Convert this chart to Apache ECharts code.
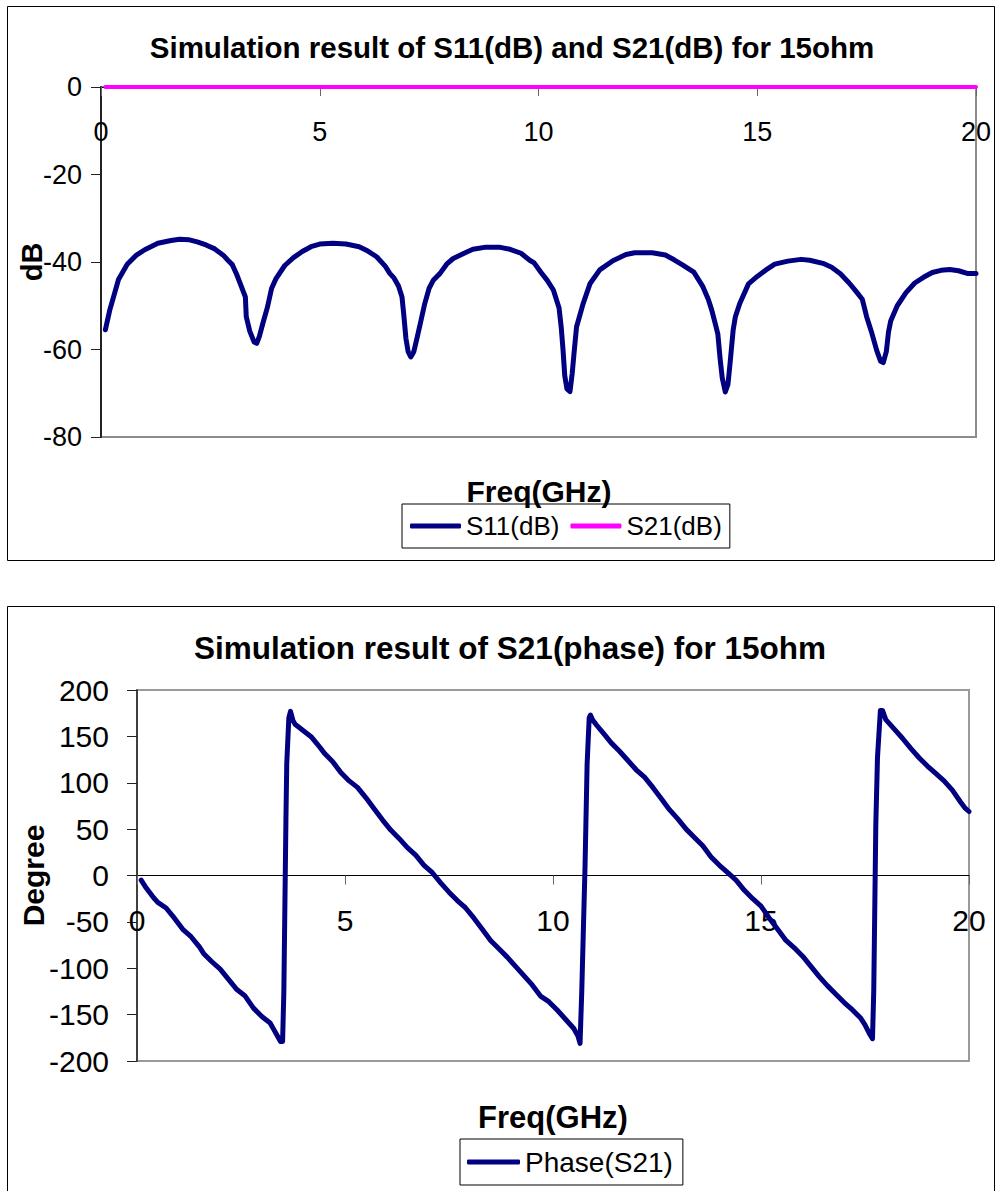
<!DOCTYPE html>
<html>
<head>
<meta charset="utf-8">
<script src="https://cdn.jsdelivr.net/npm/echarts@6/dist/echarts.min.js"></script>
<style>
html,body{margin:0;padding:0;background:#fff;}
#chart{width:1004px;height:1191px;}
</style>
</head>
<body>
<div id="chart"></div>
<script>
// ---------- data ----------
const titleTop = 'Simulation result of S11(dB) and S21(dB) for 15ohm';
const titleBottom = 'Simulation result of S21(phase) for 15ohm';
const xName = 'Freq(GHz)';
const yNameTop = 'dB';
const yNameBottom = 'Degree';

const s11Freq = [0.1,0.2,0.3,0.4,0.6,0.8,1.0,1.3,1.6,1.8,2.0,2.2,2.4,2.6,2.8,2.9,3.0,3.1,3.2,3.3,3.32,3.4,3.5,3.56,3.62,3.7,3.8,3.9,4.0,4.2,4.4,4.6,4.8,5.0,5.3,5.6,5.9,6.1,6.3,6.5,6.6,6.7,6.8,6.88,6.92,6.97,7.02,7.08,7.15,7.22,7.3,7.4,7.5,7.6,7.75,7.9,8.05,8.3,8.5,8.8,9.1,9.35,9.6,9.8,9.9,10.05,10.2,10.34,10.47,10.52,10.56,10.6,10.65,10.72,10.77,10.82,10.87,10.95,11.02,11.18,11.4,11.7,12.0,12.2,12.6,12.9,13.1,13.3,13.55,13.75,13.88,13.96,14.05,14.1,14.15,14.2,14.27,14.33,14.38,14.45,14.5,14.6,14.8,15.0,15.2,15.4,15.7,16.0,16.2,16.5,16.7,16.9,17.1,17.25,17.4,17.5,17.62,17.73,17.82,17.88,17.95,18.0,18.05,18.2,18.4,18.6,18.8,19.0,19.2,19.4,19.6,19.8,20.0];
const s11dB = [-55.5,-51,-47.5,-44,-40.5,-38.5,-37.2,-35.7,-35.1,-34.8,-34.9,-35.4,-36.1,-37,-38.5,-39.6,-40.6,-42.8,-45.4,-48,-52.5,-55.8,-58.3,-58.6,-57,-54,-50.5,-46,-43.8,-40.8,-39,-37.6,-36.5,-35.9,-35.7,-35.9,-36.5,-37.5,-38.8,-41,-42.6,-43.7,-45.5,-48,-52,-57.5,-60.5,-61.7,-60.5,-57.5,-54,-49.5,-46,-44.1,-42.6,-40.5,-39.2,-38,-37.1,-36.6,-36.6,-37.1,-38,-39.6,-40.2,-42.3,-44.2,-46.4,-50.5,-55,-60,-66,-69,-69.6,-65.5,-60,-54.8,-52,-49.5,-44.9,-41.8,-39.7,-38.3,-37.9,-37.9,-38.4,-39.5,-40.7,-42.3,-45.5,-48.5,-51,-54.5,-56.5,-62,-66.5,-69.7,-68,-63,-55.5,-52.5,-49.5,-45,-43.3,-41.8,-40.5,-39.8,-39.4,-39.6,-40.3,-41.2,-42.7,-44.8,-46.6,-48.5,-52.5,-56.3,-60.2,-62.7,-63,-60.5,-56,-53.5,-50,-47,-44.8,-43.5,-42.4,-41.9,-41.7,-42,-42.6,-42.6];

const s21Freq = [0.1,1,2,3,4,5,6,7,8,9,10,11,12,13,14,15,16,17,18,19,20];
const s21dB = [-0.01,-0.01,-0.02,-0.02,-0.02,-0.02,-0.02,-0.02,-0.02,-0.02,-0.02,-0.02,-0.02,-0.02,-0.02,-0.02,-0.02,-0.02,-0.02,-0.02,-0.02];

const phFreq = [0.1,0.2,0.4,0.5,0.7,0.9,1.1,1.3,1.5,1.6,1.8,2.0,2.2,2.4,2.6,2.8,3.0,3.2,3.3,3.4,3.45,3.5,3.53,3.58,3.6,3.65,3.69,3.75,3.8,4.0,4.2,4.4,4.5,4.7,4.9,5.1,5.3,5.5,5.7,5.9,6.1,6.3,6.5,6.7,6.9,7.1,7.3,7.5,7.7,7.9,8.1,8.3,8.5,8.7,8.9,9.1,9.3,9.5,9.7,9.9,10.1,10.3,10.5,10.6,10.65,10.69,10.77,10.82,10.87,10.9,10.95,11.05,11.2,11.4,11.6,11.8,12.0,12.2,12.4,12.6,12.8,13.0,13.2,13.4,13.6,13.8,14.0,14.2,14.4,14.6,14.8,15.0,15.2,15.4,15.6,15.8,16.0,16.2,16.4,16.6,16.8,17.0,17.2,17.4,17.5,17.6,17.68,17.71,17.76,17.8,17.87,17.92,18.0,18.2,18.4,18.6,18.8,19.0,19.2,19.4,19.6,19.8,19.9,20.0];
const phDeg = [-5,-12,-24,-29,-35,-46,-58,-66,-77,-84,-93,-101,-112,-123,-130,-143,-152,-159,-167,-175,-179,-179,-125,60,121,170,177,167,163,156,149,138,132,123,111,102,95,84,72,60,49,40,30,22,11,3,-8,-18,-27,-35,-46,-58,-70,-79,-88,-98,-108,-118,-130,-136,-145,-155,-165,-173,-181,-127,10,120,170,173,168,162,154,143,134,124,114,106,95,83,71,61,50,41,32,20,11,3,-5,-16,-25,-33,-46,-58,-70,-78,-87,-98,-109,-119,-128,-137,-145,-154,-161,-170,-176,-125,55,127,178,178,168,158,148,137,127,118,110,102,92,79,73,69];

const xTicks = {min: 0, max: 20, interval: 5};
const yTopTicks = {min: -80, max: 0, interval: 20};
const yBotTicks = {min: -200, max: 200, interval: 50};

// ---------- chart ----------
const FONT = '"Liberation Sans", Arial, sans-serif';
const zip = (xs, ys) => xs.map((x, i) => [x, ys[i]]);

const gridTop = {left: 101, top: 87, width: 875, height: 350};
const gridBot = {left: 137, top: 690, width: 832, height: 371};
// x axis drawn where y = 0 : offset from the grid bottom
const zeroOffset = (g, t) => -g.height * (0 - t.min) / (t.max - t.min);

const chart = echarts.init(document.getElementById('chart'), null, {renderer: 'svg'});

function xAxisCfg(gridIndex, fontSize, margin, offset) {
  return {
    type: 'value', gridIndex, position: 'bottom', offset,
    min: xTicks.min, max: xTicks.max, interval: xTicks.interval,
    axisLine: {onZero: false, lineStyle: {color: '#000', width: 1}},
    axisTick: {show: true, length: 9, lineStyle: {color: '#666', width: 1}},
    axisLabel: {color: '#000', fontSize, fontFamily: FONT, margin, showMinLabel: true, showMaxLabel: true},
    splitLine: {show: false}
  };
}
function yAxisCfg(gridIndex, t, fontSize, margin, w) {
  return {
    type: 'value', gridIndex, min: t.min, max: t.max, interval: t.interval,
    axisLine: {show: true, onZero: false, lineStyle: {color: '#222', width: w}},
    axisTick: {show: true, length: 10, lineStyle: {color: '#222', width: 1}},
    axisLabel: {color: '#000', fontSize, fontFamily: FONT, margin},
    splitLine: {show: false}
  };
}
function txt(text, x, y, size, rot) {
  return {
    type: 'text', x, y, rotation: rot || 0, z: 100,
    style: {text, fill: '#000', fontSize: size, fontWeight: 'bold', fontFamily: FONT, align: 'center', verticalAlign: 'middle'}
  };
}

const option = {
  animation: false,
  backgroundColor: '#fff',
  grid: [
    Object.assign({show: true, borderColor: '#8c8c8c', borderWidth: 2, backgroundColor: 'transparent'}, gridTop),
    Object.assign({show: true, borderColor: '#9a9a9a', borderWidth: 2, backgroundColor: 'transparent'}, gridBot)
  ],
  xAxis: [
    xAxisCfg(0, 27, 31, zeroOffset(gridTop, yTopTicks)),
    xAxisCfg(1, 30, 30, zeroOffset(gridBot, yBotTicks))
  ],
  yAxis: [yAxisCfg(0, yTopTicks, 27, 19, 2), yAxisCfg(1, yBotTicks, 30, 28, 1.5)],
  legend: [
    {
      data: ['S11(dB)', 'S21(dB)'], left: 402, top: 504, orient: 'horizontal',
      padding: [9, 8, 9, 8], itemGap: 11, itemWidth: 51, itemHeight: 5, icon: 'roundRect',
      borderColor: '#000', borderWidth: 1, backgroundColor: '#fff',
      textStyle: {fontSize: 26, fontFamily: FONT, color: '#000'}
    },
    {
      data: ['Phase(S21)'], left: 460, top: 1139, orient: 'horizontal',
      padding: [9, 10, 9, 7], itemWidth: 53, itemHeight: 5, icon: 'roundRect',
      borderColor: '#000', borderWidth: 1, backgroundColor: '#fff',
      textStyle: {fontSize: 28, fontFamily: FONT, color: '#000'}
    }
  ],
  graphic: [
    {type: 'rect', shape: {x: 7.5, y: 6.5, width: 987, height: 554}, style: {fill: 'none', stroke: '#000', lineWidth: 1}, z: 0, silent: true},
    {type: 'rect', shape: {x: 7.5, y: 606.5, width: 987, height: 600}, style: {fill: 'none', stroke: '#000', lineWidth: 1}, z: 0, silent: true},
    txt(titleTop, 512, 47, 29.5),
    txt(titleBottom, 510, 648, 31.5),
    txt(yNameTop, 32, 262, 29, Math.PI / 2),
    txt(yNameBottom, 33, 875.5, 30, Math.PI / 2),
    txt(xName, 539, 491, 30),
    txt(xName, 553, 1117, 31)
  ],
  series: [
    {
      name: 'S11(dB)', type: 'line', xAxisIndex: 0, yAxisIndex: 0, data: zip(s11Freq, s11dB),
      symbol: 'none', color: '#000080', lineStyle: {width: 5, color: '#000080', cap: 'round', join: 'round'}, clip: false, z: 3
    },
    {
      name: 'S21(dB)', type: 'line', xAxisIndex: 0, yAxisIndex: 0, data: zip(s21Freq, s21dB),
      symbol: 'none', color: '#ff00ff', lineStyle: {width: 4, color: '#ff00ff', cap: 'round'}, clip: false, z: 4
    },
    {
      name: 'Phase(S21)', type: 'line', xAxisIndex: 1, yAxisIndex: 1, data: zip(phFreq, phDeg),
      symbol: 'none', color: '#000080', lineStyle: {width: 5, color: '#000080', cap: 'round', join: 'round'}, clip: false, z: 3
    }
  ]
};
chart.setOption(option);
</script>
</body>
</html>
